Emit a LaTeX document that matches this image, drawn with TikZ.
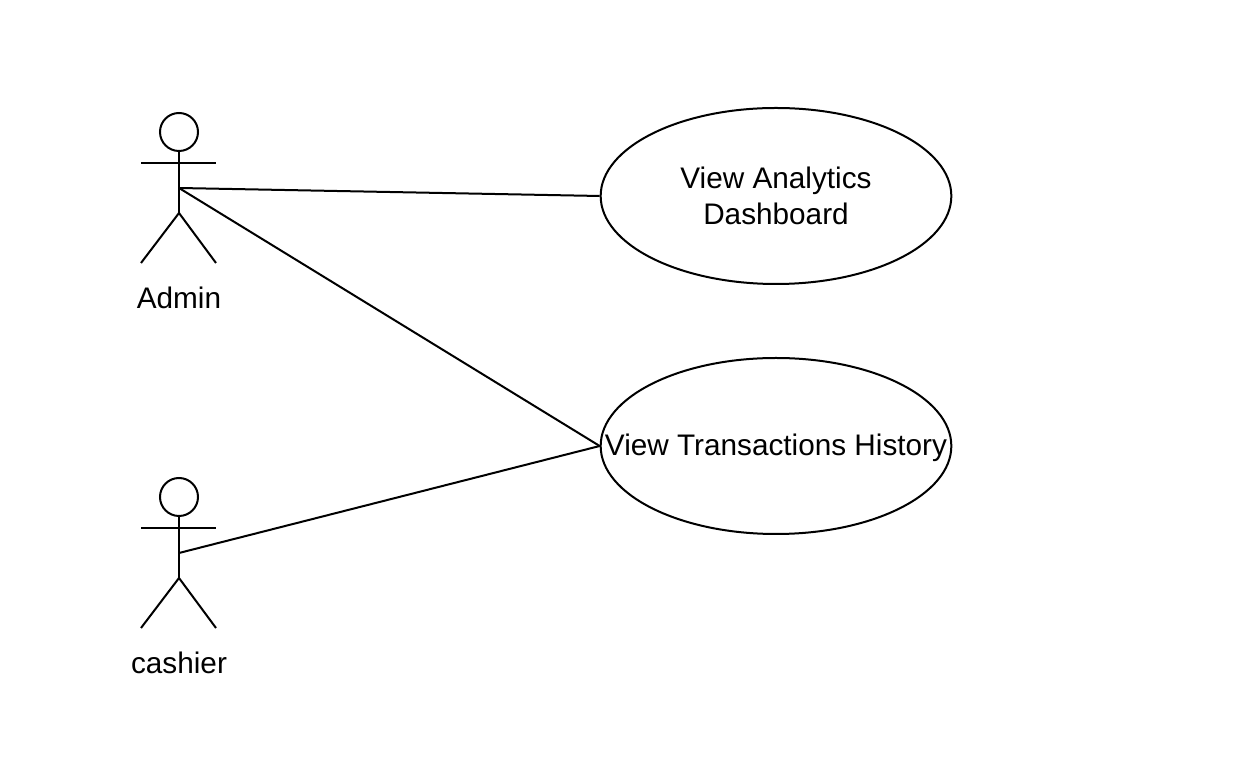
\documentclass[tikz,border=0pt]{standalone}
\usepackage{fontspec}
\setmainfont{Liberation Sans}
\usetikzlibrary{positioning}
\usetikzlibrary{shapes.geometric}

\begin{document}
\begin{tikzpicture}[x=0.75pt,y=0.75pt,line width=1.5pt,node distance=187.5pt,
                    usecase node/.style={ellipse,draw,inner sep=0pt,minimum width=263pt,minimum height=132pt,align=center,font=\fontsize{22.3}{27}\selectfont},
                    actor label/.style={font=\fontsize{22.3}{27}\selectfont},
                    actor/.pic={
                      \draw (0,56) circle (19);
                      \draw (0,37) -- (0,-25);
                      \draw (-38,25) -- (37,25);
                      \draw (-38,-75) -- (0,-25) -- (37,-75);
                    }]
  \useasboundingbox (0,0) rectangle (1248,756);

  \node[usecase node] (D) at (776,560) {View Analytics\\Dashboard};
  \node[usecase node] (T) [below of=D] {\rule{0pt}{19pt}\makebox[0pt]{View Transactions History}};

  \coordinate (A) at (179,568);
  \coordinate (C) at (179,203);
  \pic at (A) {actor};
  \pic at (C) {actor};
  \node[actor label] (Admin) at (179,458) {Admin};
  \node[actor label] (cashier) [below=273.75pt of Admin.center,anchor=center] {cashier};

  \path
    (A) edge (D.west)
        edge (T.west)
    (C) edge (T.west);
\end{tikzpicture}
\end{document}
